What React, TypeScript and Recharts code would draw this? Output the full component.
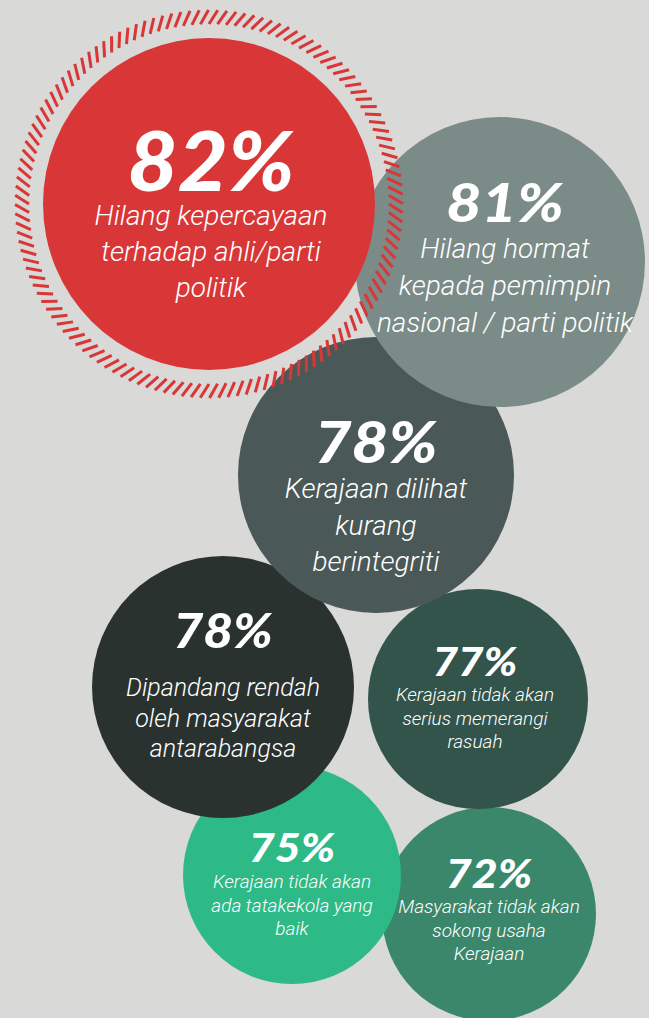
import React from 'react'
import { ScatterChart, Scatter, XAxis, YAxis } from 'recharts'

// values, drawn from smallest to largest so the big ones sit on top
const percents = [72, 75, 77, 78, 78, 81, 82]
const centerX = [489, 292, 478, 223, 376, 500, 209]
const centerY = [914, 875, 699, 687, 475, 262, 204]
const radii = [107, 109, 110, 131, 138, 145, 166]
const labels = [
  ['Masyarakat tidak akan', 'sokong usaha', 'Kerajaan'],
  ['Kerajaan tidak akan', 'ada tatakekola yang', 'baik'],
  ['Kerajaan tidak akan', 'serius memerangi', 'rasuah'],
  ['Dipandang rendah', 'oleh masyarakat', 'antarabangsa'],
  ['Kerajaan dilihat', 'kurang', 'berintegriti'],
  ['Hilang hormat', 'kepada pemimpin', 'nasional / parti politik'],
  ['Hilang kepercayaan', 'terhadap ahli/parti', 'politik'],
]

const COLORS = ['#3a876c', '#2dba86', '#33544a', '#2a3230', '#4a5857', '#7b8b87', '#d93737']
const BG = '#d9d9d7'
const W = 649
const H = 1018

// text layout per bubble: [pct font size, pct baseline offset, label size, first label offset, line height, x offset, pct stretch]
const TEXT_STYLE = [
  [40, -26, 19, -1, 23.5, 0, 1.12],
  [40, -13, 19, 13, 23.5, 0, 1.12],
  [40, -23, 19, 2, 23.5, -3, 1.1],
  [47, -39, 25, 9, 30.5, 0, 1.1],
  [58, -12, 28, 23, 36.5, 0, 1.1],
  [54, -40, 28, -4, 37, 5, 1.13],
  [81, -13, 28, 21, 36, 2, 1.07],
]

const pctFont = 'Lato, "Noto Sans", sans-serif'
const labelFont = 'Roboto, "Open Sans", sans-serif'

const data = percents.map((p, i) => ({
  x: centerX[i],
  y: centerY[i],
  r: radii[i],
  value: p,
  lines: labels[i],
  idx: i,
}))

function Ring({ cx, cy }: { cx: number; cy: number }) {
  const count = 132
  const rIn = 180
  const rOut = 194
  const twist = 0.045
  const dashes = []
  for (let k = 0; k < count; k++) {
    const a = (k / count) * Math.PI * 2
    dashes.push(
      <line
        key={k}
        x1={cx + rIn * Math.cos(a)}
        y1={cy + rIn * Math.sin(a)}
        x2={cx + rOut * Math.cos(a + twist)}
        y2={cy + rOut * Math.sin(a + twist)}
        stroke="#d93737"
        strokeWidth={3}
      />
    )
  }
  return <g>{dashes}</g>
}

function Bubble(props: any) {
  const { cx, cy, payload } = props
  const i = payload.idx
  const [pSize, pOff, lSize, lOff, lh, dx, stretch] = TEXT_STYLE[i]
  const tx = cx + dx
  return (
    <g>
      <circle cx={cx} cy={cy} r={payload.r} fill={COLORS[i]} />
      {payload.value === 82 && <Ring cx={cx} cy={cy} />}
      <text
        x={tx}
        y={cy + pOff}
        textAnchor="middle"
        fill="#ffffff"
        fontFamily={pctFont}
        fontWeight={900}
        fontStyle="italic"
        fontSize={pSize}
        transform={`translate(${tx} 0) scale(${stretch} 1) translate(${-tx} 0)`}
      >
        {payload.value}%
      </text>
      {payload.lines.map((t: string, j: number) => (
        <text
          key={j}
          x={tx}
          y={cy + lOff + j * lh}
          textAnchor="middle"
          fill="#ffffff"
          fontFamily={labelFont}
          fontWeight={300}
          fontStyle="italic"
          fontSize={lSize}
        >
          {t}
        </text>
      ))}
    </g>
  )
}

export default function App() {
  return (
    <div style={{ width: W, height: H, background: BG, overflow: 'hidden' }}>
      <style>{'body{margin:0}'}</style>
      <ScatterChart width={W} height={H} margin={{ top: 0, right: 0, bottom: 0, left: 0 }}>
        <XAxis type="number" dataKey="x" domain={[0, W]} hide />
        <YAxis type="number" dataKey="y" domain={[0, H]} reversed hide />
        <Scatter data={data} shape={<Bubble />} isAnimationActive={false} />
      </ScatterChart>
    </div>
  )
}
